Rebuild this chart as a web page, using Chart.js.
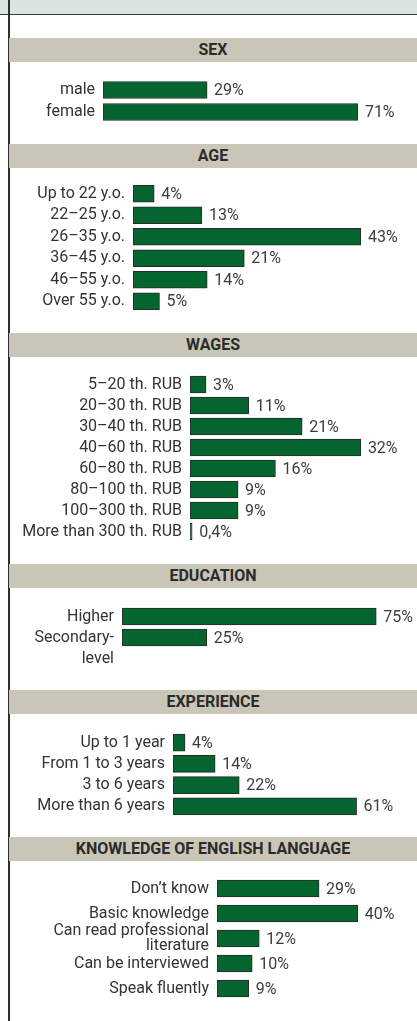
<!DOCTYPE html>
<html>
<head>
<meta charset="utf-8">
<script src="https://cdn.jsdelivr.net/npm/chart.js@4/dist/chart.umd.min.js"></script>
<style>
  body { margin: 0; background: #fff; }
  #page { position: relative; width: 417px; height: 1021px; overflow: hidden; background: #fff; font-family: Roboto, sans-serif; }
  .topband { position: absolute; left: 0; top: 0; width: 417px; height: 14px; background: #dae6dd; border-bottom: 1.5px solid #3a3a3a; }
  .frame { position: absolute; left: 8px; top: 0; width: 1.5px; height: 1021px; background: #2e2e2e; }
  .head { position: absolute; left: 9px; width: 408px; height: 24px; line-height: 24px; background: #c9c6b8; text-align: center; font-weight: bold; font-size: 16px; color: #2b2b2b; }
  canvas { position: absolute; left: 9px; }
</style>
</head>
<body>
<div id="page">
  <div class="topband"></div>
  <div class="frame"></div>
  <div class="head" style="top:38px">SEX</div>
  <div class="head" style="top:144px">AGE</div>
  <div class="head" style="top:333px">WAGES</div>
  <div class="head" style="top:564px">EDUCATION</div>
  <div class="head" style="top:690px">EXPERIENCE</div>
  <div class="head" style="top:837px">KNOWLEDGE OF ENGLISH LANGUAGE</div>
</div>
<script>
// survey shares, per cent
const sexLabels = ["male", "female"];
const sexValues = [29, 71];

const ageLabels = ["Up to 22 y.o.", "22–25 y.o.", "26–35 y.o.", "36–45 y.o.", "46–55 y.o.", "Over 55 y.o."];
const ageValues = [4, 13, 43, 21, 14, 5];

const wageLabels = ["5–20 th. RUB", "20–30 th. RUB", "30–40 th. RUB", "40–60 th. RUB", "60–80 th. RUB", "80–100 th. RUB", "100–300 th. RUB", "More than 300 th. RUB"];
const wageValues = [3, 11, 21, 32, 16, 9, 9, 0.4];

const eduLabels = ["Higher", ["", "Secondary-", "level"]];
const eduValues = [75, 25];

const expLabels = ["Up to 1 year", "From 1 to 3 years", "3 to 6 years", "More than 6 years"];
const expValues = [4, 14, 22, 61];

const engLabels = ["Don’t know", "Basic knowledge", ["Can read professional", "literature"], "Can be interviewed", "Speak fluently"];
const engValues = [29, 40, 12, 10, 9];

const FONT_SIZE = 16;
Chart.defaults.font.family = "Roboto";
Chart.defaults.font.size = FONT_SIZE;
Chart.defaults.color = "#333";

const PAD = 40;          // room above/below the bars for the tick labels
const CANVAS_W = 408;

// writes "29%" / "0,4%" just past the end of each bar
const valueLabels = {
  id: "valueLabels",
  afterDatasetsDraw(chart) {
    const ctx = chart.ctx;
    const ds = chart.data.datasets[0];
    ctx.save();
    ctx.font = FONT_SIZE + "px Roboto";
    ctx.fillStyle = "#3c3c3c";
    ctx.textAlign = "left";
    ctx.textBaseline = "middle";
    chart.getDatasetMeta(0).data.forEach((bar, i) => {
      const txt = String(ds.data[i]).replace(".", ",") + "%";
      ctx.fillText(txt, bar.x + 7, bar.y + 1);
    });
    ctx.restore();
  }
};

function section(labels, values, top, pitch, barLeft, pxPer, lineHeight) {
  const canvas = document.createElement("canvas");
  const h = Math.round(labels.length * pitch) + PAD * 2;
  canvas.width = CANVAS_W;
  canvas.height = h;
  canvas.style.width = CANVAS_W + "px";
  canvas.style.height = h + "px";
  canvas.style.top = (top - PAD) + "px";
  document.getElementById("page").appendChild(canvas);

  const axisW = barLeft - 9;
  new Chart(canvas, {
    type: "bar",
    data: {
      labels: labels,
      datasets: [{
        data: values,
        backgroundColor: "#05652f",
        borderColor: "#2a2a2a",
        borderWidth: 1,
        borderSkipped: false,
        barThickness: 17
      }]
    },
    options: {
      indexAxis: "y",
      responsive: false,
      animation: false,
      layout: { padding: { top: PAD, bottom: PAD, left: 0, right: 0 } },
      plugins: { legend: { display: false }, tooltip: { enabled: false } },
      scales: {
        x: { display: false, min: 0, max: (CANVAS_W - axisW) / pxPer },
        y: {
          grid: { display: false, drawTicks: false },
          border: { display: false },
          ticks: {
            autoSkip: false,
            padding: 8,
            color: "#333",
            font: { size: FONT_SIZE, lineHeight: lineHeight || 1.2 }
          },
          afterFit(scale) { scale.width = axisW; }
        }
      }
    },
    plugins: [valueLabels]
  });
}

section(sexLabels, sexValues, 79, 22, 103, 3.59);
section(ageLabels, ageValues, 183, 21.5, 133, 5.3);
section(wageLabels, wageValues, 374, 21, 190, 5.34);
section(eduLabels, eduValues, 606, 21, 122, 3.39, 21 / FONT_SIZE);
section(expLabels, expValues, 732, 21.25, 173, 3.01);
section(engLabels, engValues, 876, 25, 217, 3.52, 15 / FONT_SIZE);
</script>
</body>
</html>
